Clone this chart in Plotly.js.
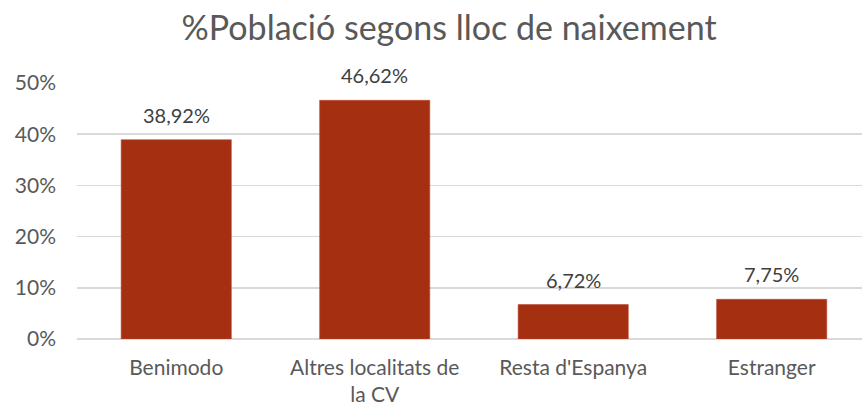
<!DOCTYPE html>
<html><head><meta charset="utf-8">
<script src="https://cdn.plot.ly/plotly-3.0.1.min.js"></script>
<style>html,body{margin:0;padding:0;overflow:hidden;background:#fff}</style>
</head><body><div id="chart" style="width:862px;height:408px"></div>
<script>
const categories = ["Benimodo", "Altres localitats de<br>la CV", "Resta d'Espanya", "Estranger"];
const values = [0.3892, 0.4662, 0.0672, 0.0775];
const valueLabels = ["38,92%", "46,62%", "6,72%", "7,75%"];
const yTickValues = [0, 0.1, 0.2, 0.3, 0.4, 0.5];
const yTickLabels = ["0%", "10%", "20%", "30%", "40%", "50%"];

const font = "Lato, 'Open Sans', sans-serif";
const textColor = "#595959";

const trace = {
  type: "bar",
  x: categories.map((c, i) => i),
  y: values,
  marker: {color: "#A52F11", line: {color: "#B84A33", width: 0.6}},
  width: 0.555,
  hoverinfo: "skip"
};

const annotations = values.map((v, i) => ({
  x: i, y: v, xref: "x", yref: "y",
  text: valueLabels[i], showarrow: false,
  yanchor: "bottom", yshift: 11,
  font: {family: font, size: 20, color: "#404040"}
}));

const layout = {
  width: 862, height: 408,
  margin: {l: 77, r: 0, t: 83, b: 69},
  paper_bgcolor: "#fff", plot_bgcolor: "#fff",
  showlegend: false,
  title: {text: "%Població segons lloc de naixement", x: 0.521, xanchor: "center", y: 0.93, yanchor: "middle",
          font: {family: font, size: 34, color: textColor}},
  xaxis: {
    range: [-0.5, 3.455], tickmode: "array",
    tickvals: categories.map((c, i) => i), ticktext: categories,
    showgrid: false, zeroline: false, showline: false, ticks: "",
    ticklabelstandoff: 14,
    tickfont: {family: font, size: 21, color: textColor},
    fixedrange: true
  },
  yaxis: {
    range: [0, 0.5], tickmode: "array", tickvals: yTickValues, ticktext: yTickLabels,
    showgrid: true, gridcolor: "#D9D9D9", gridwidth: 1.5,
    zeroline: true, zerolinecolor: "#D9D9D9", zerolinewidth: 1.5,
    showline: false, ticks: "", ticklabelstandoff: 20,
    tickfont: {family: font, size: 21, color: textColor},
    fixedrange: true
  },
  annotations: annotations
};

Plotly.newPlot("chart", [trace], layout, {displayModeBar: false, staticPlot: true});
</script></body></html>
